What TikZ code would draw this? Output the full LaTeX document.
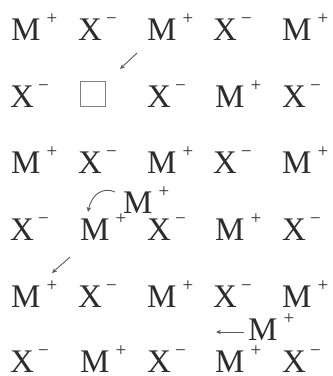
\documentclass[tikz,border=0pt]{standalone}
\usepackage{fontspec}
\setmainfont{Liberation Serif}
\usetikzlibrary{arrows.meta}
\definecolor{ink}{RGB}{45,45,45}
\definecolor{arrowgray}{RGB}{90,90,90}
\newcommand{\supsign}[2]{\hspace{#1}\raisebox{16pt}{\fontsize{19}{19}\selectfont #2}}
\newcommand{\Mp}{M\supsign{6pt}{+}}
\newcommand{\Xm}{X\supsign{4pt}{−}}
\begin{document}
\begin{tikzpicture}[x=1pt,y=-1pt,
  ion/.style={anchor=base west,inner sep=0pt,text=ink,font=\fontsize{33}{33}\selectfont},
  vac/.style={draw=gray,line width=1pt,minimum size=25pt,inner sep=0pt,anchor=south west},
  mv/.style={draw=arrowgray,line width=0.9pt,-{Stealth[length=5pt,width=4.5pt]}}]
\useasboundingbox (0,0) rectangle (333,376);
% row 1
\node[ion] (r1c1) at (11,40) {\Mp};
\node[ion] (r1c2) at (78,40) {\Xm};
\node[ion] (r1c3) at (147,40) {\Mp};
\node[ion] (r1c4) at (213,40) {\Xm};
\node[ion] (r1c5) at (282,40) {\Mp};
% row 2
\node[ion] (r2c1) at (10,107) {\Xm};
\node[vac] (r2c2) at (80,107) {};
\node[ion] (r2c3) at (147,107) {\Xm};
\node[ion] (r2c4) at (215,107) {\Mp};
\node[ion] (r2c5) at (282,107) {\Xm};
% row 3
\node[ion] (r3c1) at (11,173) {\Mp};
\node[ion] (r3c2) at (78,173) {\Xm};
\node[ion] (r3c3) at (147,173) {\Mp};
\node[ion] (r3c4) at (213,173) {\Xm};
\node[ion] (r3c5) at (282,173) {\Mp};
% row 4
\node[ion] (r4c1) at (10,240) {\Xm};
\node[ion] (r4c2) at (80,240) {\Mp};
\node[ion] (r4c3) at (147,240) {\Xm};
\node[ion] (r4c4) at (215,240) {\Mp};
\node[ion] (r4c5) at (282,240) {\Xm};
% row 5
\node[ion] (r5c1) at (11,307) {\Mp};
\node[ion] (r5c2) at (78,307) {\Xm};
\node[ion] (r5c3) at (147,307) {\Mp};
\node[ion] (r5c4) at (213,307) {\Xm};
\node[ion] (r5c5) at (282,307) {\Mp};
% row 6
\node[ion] (r6c1) at (10,372) {\Xm};
\node[ion] (r6c2) at (80,372) {\Mp};
\node[ion] (r6c3) at (147,372) {\Xm};
\node[ion] (r6c4) at (215,372) {\Mp};
\node[ion] (r6c5) at (282,372) {\Xm};
% moving ions and arrows
\coordinate (a1s) at (137,53);
\coordinate (a1e) at (120,69);
\draw[mv] (a1s) -- (a1e);
\node[ion] (m2) at (123,213) {\Mp};
\coordinate (a2s) at (115,192);
\coordinate (a2e) at (88,212);
\draw[mv] (a2s) .. controls (104,187) and (92,193) .. (a2e);
\coordinate (a3s) at (70,257);
\coordinate (a3e) at (52,273);
\draw[mv] (a3s) -- (a3e);
\node[ion] (m4) at (248,340) {\Mp};
\coordinate (a4s) at (244,332);
\coordinate (a4e) at (216,332);
\draw[mv] (a4s) -- (a4e);
\end{tikzpicture}
\end{document}
